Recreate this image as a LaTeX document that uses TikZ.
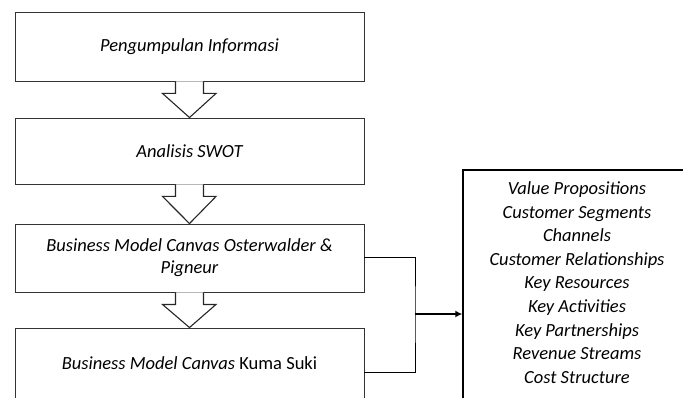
\documentclass[tikz,border=0pt]{standalone}
\usepackage{fontspec}
\setmainfont{Carlito}
\usetikzlibrary{arrows.meta,calc}
\begin{document}
\begin{tikzpicture}[x=1pt,y=-1pt,
  stepbox/.style={draw=black!80,line width=0.9pt,minimum width=349pt,inner sep=0pt,align=center,
    font=\fontsize{18.5}{22}\selectfont\itshape},
  blockarrow/.style={draw=black!85,line width=1.1pt,fill=white,line join=miter},
  conn/.style={draw=black,line width=1pt}]
\useasboundingbox (0,0) rectangle (683,398);
\clip (0,0) rectangle (683,398);
\node[stepbox,minimum height=69pt] (b1) at (189.5,46.5) {Pengumpulan Informasi};
\node[stepbox,minimum height=66pt] (b2) at (189.5,151) {Analisis SWOT};
\node[stepbox,minimum height=68pt] (b3) at (189.5,258) {Business Model Canvas Osterwalder \&\\Pigneur};
\node[stepbox,minimum height=70pt] (b4) at (189.5,363) {Business Model Canvas \upshape Kuma Suki};
% block arrows
\foreach \a/\b in {b1/b2,b2/b3,b3/b4}{
  \draw[blockarrow] ($(\a.south)+(-14,0)$) -- ++(0,12) -- ++(-13,0) -- (\b.north)
    -- ($(\a.south)+(26.5,12)$) -- ++(-12.5,0) -- ($(\a.south)+(14,0)$);
}
% right box
\node[draw=black,line width=1.4pt,minimum width=228pt,minimum height=288pt,inner sep=0pt] (r) at (577,314) {};
\node[align=center,inner sep=0pt,font=\fontsize{18.5}{23.6}\selectfont\itshape] (rt) at (577,282.5)
 {Value Propositions\\Customer Segments\\Channels\\Customer Relationships\\Key Resources\\Key Activities\\Key Partnerships\\Revenue Streams\\Cost Structure};
\coordinate (j) at (415,314);
\coordinate (b4e) at ($(b4.east)+(0,9)$);
\draw[conn] (b3.east) -| (j) |- (b4e);
\draw[conn,line width=1.6pt,-{Latex[length=7pt,width=7pt]}] (j) -- (r.west);
\end{tikzpicture}
\end{document}
